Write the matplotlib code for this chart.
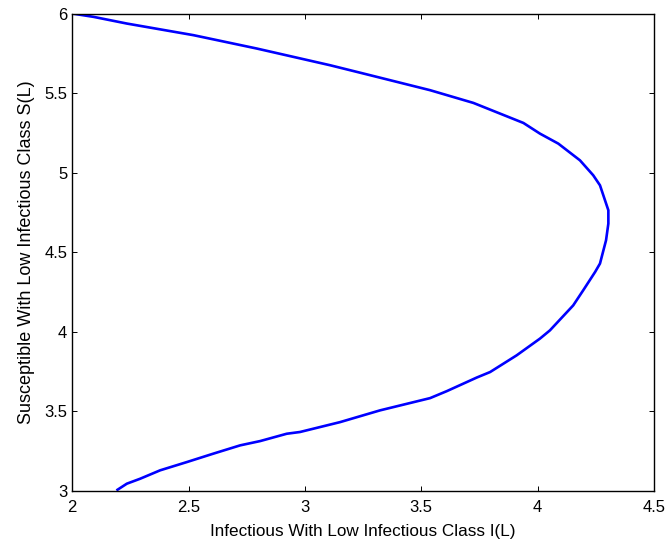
import numpy as np
import matplotlib.pyplot as plt

plt.rcParams['font.family'] = ['Liberation Sans', 'DejaVu Sans']

# I(L) and S(L)
infectious = [2.0, 2.092, 2.235, 2.521, 2.793, 3.108, 3.251, 3.538, 3.724, 3.939,
              4.010, 4.089, 4.182, 4.239, 4.268, 4.304, 4.304, 4.294, 4.268, 4.247,
              4.196, 4.153, 4.053, 4.010, 3.910, 3.796, 3.738, 3.610, 3.538, 3.323,
              3.151, 2.979, 2.922, 2.808, 2.722, 2.607, 2.493, 2.378, 2.292, 2.235,
              2.195]
susceptible = [6.0, 5.979, 5.937, 5.864, 5.780, 5.675, 5.623, 5.518, 5.438, 5.312,
               5.245, 5.182, 5.077, 4.983, 4.920, 4.763, 4.679, 4.574, 4.428, 4.375,
               4.260, 4.165, 4.008, 3.956, 3.851, 3.746, 3.711, 3.626, 3.582, 3.505,
               3.431, 3.369, 3.358, 3.312, 3.285, 3.233, 3.180, 3.128, 3.075, 3.044,
               3.006]

fig = plt.figure(figsize=(6.68, 5.41), dpi=100)
ax = fig.add_axes([0.108, 0.093, 0.871, 0.882])

ax.plot(infectious, susceptible, color='#0000ff', linewidth=1.9)

ax.set_xlim(2, 4.5)
ax.set_ylim(3, 6)
ax.set_xticks(np.arange(2, 4.51, 0.5))
ax.set_yticks(np.arange(3, 6.01, 0.5))
ax.set_xticklabels(['2', '2.5', '3', '3.5', '4', '4.5'])
ax.set_yticklabels(['3', '3.5', '4', '4.5', '5', '5.5', '6'])
ax.tick_params(direction='in', top=True, right=True, length=3.5, width=0.7, labelsize=12)
ax.tick_params(axis='x', pad=6.5)
for s in ax.spines.values():
    s.set_linewidth(1.0)

ax.set_xlabel('Infectious With Low Infectious Class I(L)', fontsize=12.3, labelpad=7)
ax.set_ylabel('Susceptible With Low Infectious Class S(L)', fontsize=13, labelpad=7)

fig.savefig('out.png', dpi=100)
